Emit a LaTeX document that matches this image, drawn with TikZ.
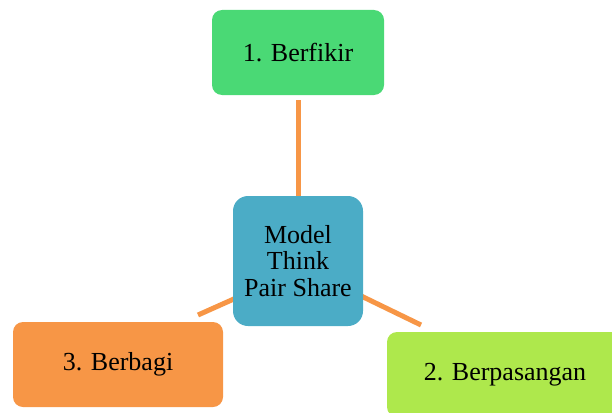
\documentclass[tikz,border=0pt]{standalone}
\usepackage{fontspec}
\setmainfont{Liberation Serif}
\definecolor{stepgreen}{HTML}{4AD975}
\definecolor{steplime}{HTML}{AEE84C}
\definecolor{steporange}{HTML}{F79646}
\definecolor{hubteal}{HTML}{4BACC6}
\begin{document}
\begin{tikzpicture}[x=1pt,y=-1pt,
  box/.style={rounded corners=10pt, inner sep=0pt, align=center,
    font=\fontsize{26}{26.7}\selectfont, text=black},
  link/.style={draw=steporange, line width=5pt}]
\useasboundingbox (0,0) rectangle (612,412);
\clip (0,0) rectangle (612,412);
% connector end points
\coordinate (t1) at (298,100);
\coordinate (t2) at (298,200);
\coordinate (l1) at (245,294);
\coordinate (l2) at (198,315);
\coordinate (r1) at (355,293);
\coordinate (r2) at (421,325);
\draw[link] (t1) -- (t2);
\draw[link] (l1) -- (l2);
\draw[link] (r1) -- (r2);
% boxes
\node[box, fill=stepgreen, minimum width=172pt, minimum height=85pt] (think) at (298,52.5) {1. Berfikir};
\node[box, fill=hubteal, rounded corners=15pt, minimum width=130pt, minimum height=130pt] (hub) at (298,261) {Model\\Think\\Pair Share};
\node[box, fill=steporange, minimum width=210pt, minimum height=85pt] (share) at (118,364.5) {3. Berbagi};
\node[box, fill=steplime, minimum width=236pt, minimum height=85pt] (pair) at (505,374.5) {2. Berpasangan};
\end{tikzpicture}
\end{document}
